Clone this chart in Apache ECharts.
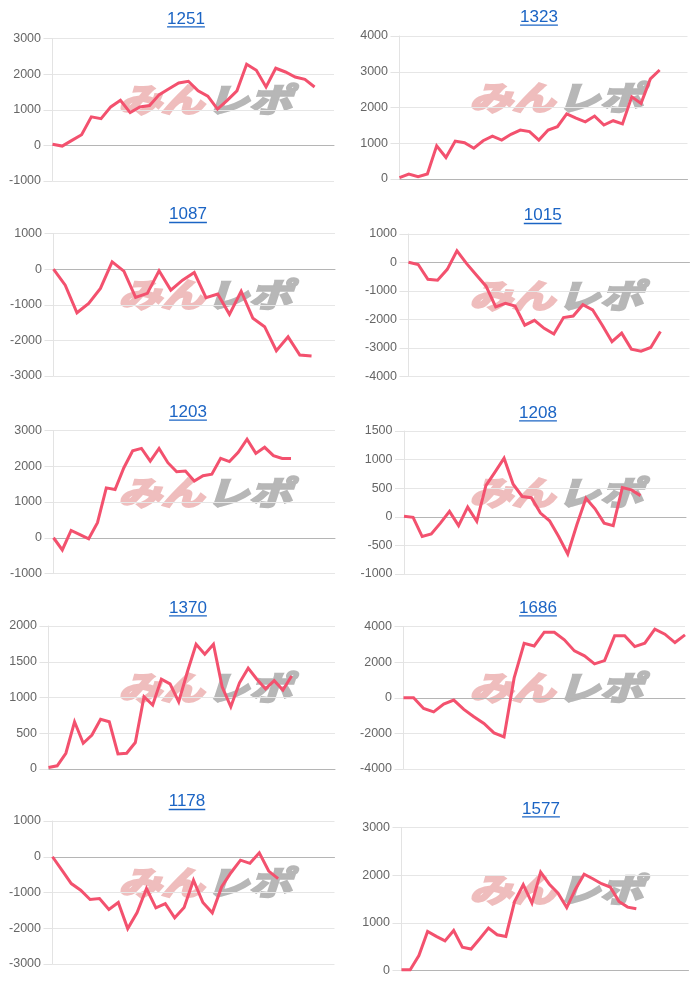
<!DOCTYPE html>
<html><head><meta charset="utf-8">
<script src="https://cdn.jsdelivr.net/npm/echarts@6/dist/echarts.min.js"></script>
<style>html,body{margin:0;padding:0;background:#fff}#c{width:700px;height:986px}</style>
</head><body><div id="c"></div>
<script>
// ---- data ----
const titles = ['1251','1323','1087','1015','1203','1208','1370','1686','1178','1577'];
const categoryCounts = [30, 32, 25, 30, 33, 32, 34, 29, 31, 34];
const s1251 = [30, -20, 140, 300, 800, 750, 1080, 1265, 920, 1080, 1120, 1425, 1590, 1750, 1800, 1530, 1380, 1020, 1265, 1530, 2280, 2110, 1640, 2165, 2060, 1920, 1855, 1640];
const s1323 = [37, 140, 65, 140, 930, 600, 1060, 1015, 860, 1070, 1200, 1090, 1250, 1370, 1325, 1090, 1370, 1465, 1820, 1700, 1600, 1760, 1510, 1630, 1540, 2300, 2115, 2800, 3050];
const s1087 = [0, -450, -1225, -960, -540, 205, -55, -795, -680, -45, -590, -310, -95, -800, -700, -1270, -620, -1380, -1615, -2290, -1900, -2410, -2440];
const s1015 = [10, -70, -590, -620, -240, 410, -40, -440, -830, -1560, -1430, -1530, -2200, -2030, -2310, -2510, -1930, -1880, -1480, -1660, -2200, -2780, -2480, -3040, -3110, -2980, -2420];
const s1203 = [0, -340, 205, 85, -30, 420, 1395, 1350, 1960, 2430, 2500, 2145, 2500, 2100, 1845, 1865, 1585, 1735, 1780, 2220, 2130, 2390, 2755, 2360, 2530, 2295, 2220, 2220];
const s1208 = [10, -10, -345, -300, -110, 95, -155, 170, -80, 545, 780, 1025, 570, 355, 335, 65, -70, -345, -650, -140, 325, 140, -110, -155, 510, 470, 370];
const s1370 = [20, 45, 220, 660, 360, 475, 695, 660, 210, 220, 370, 1010, 895, 1255, 1190, 940, 1360, 1745, 1605, 1745, 1150, 870, 1205, 1410, 1255, 1120, 1235, 1105, 1300];
const s1686 = [0, 0, -600, -790, -355, -130, -655, -1070, -1445, -1970, -2200, 1100, 3060, 2910, 3680, 3680, 3250, 2630, 2350, 1900, 2085, 3475, 3475, 2870, 3060, 3850, 3570, 3100, 3530];
const s1178 = [0, -375, -750, -935, -1195, -1170, -1475, -1280, -2010, -1560, -890, -1430, -1310, -1710, -1420, -655, -1280, -1570, -840, -440, -95, -185, 110, -400, -610];
const s1577 = [15, 15, 315, 820, 715, 620, 840, 490, 450, 665, 890, 750, 715, 1445, 1800, 1415, 2065, 1810, 1620, 1320, 1705, 2020, 1925, 1820, 1750, 1450, 1330, 1295];
const seriesData = [s1251, s1323, s1087, s1015, s1203, s1208, s1370, s1686, s1178, s1577];
const yMin  = [-1000, 0, -3000, -4000, -1000, -1000, 0, -4000, -3000, 0];
const yMax  = [3000, 4000, 1000, 1000, 3000, 1500, 2000, 4000, 1000, 3000];
const yStep = [1000, 1000, 1000, 1000, 1000, 500, 500, 2000, 1000, 1000];

// ---- layout (pixels) ----
const grids = [
  [52.5, 38.5, 281.5, 142.5], [399.5, 36, 288, 143],
  [53.5, 233.5, 281.5, 142.5], [408.5, 234, 281, 142.5],
  [53.5, 430.5, 281.5, 143], [404, 431, 282, 143],
  [48.5, 626, 286.5, 143], [403.5, 626.5, 281.5, 142.5],
  [52.5, 821, 282, 143], [401.5, 827.5, 287, 143]
];
const titlePos = [[186,25],[539,23.3],[188,220.7],[542.7,221.7],[188,418.3],[538,419],[188,614],[538,614],[187,807.7],[541,815]];
const FONT = '"Liberation Sans", Arial, Helvetica, sans-serif';
const TITLE_SIZE = 17;
const BLUE = '#1b64c4';
const LINE = '#f3516e';
const WM_FONT = 'italic bold 33px "Noto Sans CJK JP"';

const measure = document.createElement('canvas').getContext('2d');
measure.font = TITLE_SIZE + 'px ' + FONT;

const option = { animation: false, title: [], grid: [], xAxis: [], yAxis: [], series: [], graphic: [] };

titles.forEach((t, i) => {
  const [gl, gt, gw, gh] = grids[i];
  const [cx, base] = titlePos[i];
  option.title.push({
    text: t, left: cx - 5, top: base - 14.4 - 5, textAlign: 'center',
    textStyle: { fontFamily: FONT, fontSize: TITLE_SIZE, fontWeight: 'normal', color: BLUE }
  });
  const w = measure.measureText(t).width;
  option.graphic.push({ type: 'line', shape: { x1: cx - w / 2, y1: base + 1.8, x2: cx + w / 2, y2: base + 1.8 },
    style: { stroke: BLUE, lineWidth: 1.3 }, z: 10, silent: true });
  option.grid.push({ left: gl, top: gt, width: gw, height: gh, containLabel: false });
  const cats = Array.from({ length: categoryCounts[i] }, (_, k) => String(k + 1));
  option.xAxis.push({
    type: 'category', gridIndex: i, data: cats, boundaryGap: false,
    axisLine: { show: true, onZero: true, lineStyle: { color: '#b5b5b5', width: 1 } },
    axisTick: { show: false }, axisLabel: { show: false }, splitLine: { show: false }
  });
  option.yAxis.push({
    type: 'value', gridIndex: i, min: yMin[i], max: yMax[i], interval: yStep[i],
    axisLine: { show: true, lineStyle: { color: '#e3e3e3' } },
    axisTick: { show: true, length: 9, lineStyle: { color: '#e3e3e3' } },
    axisLabel: { color: '#666', fontSize: 12.5, fontFamily: FONT, margin: 11.5, formatter: v => String(v) },
    splitLine: { show: true, lineStyle: { color: '#e6e6e6' } }
  });
  option.series.push({
    type: 'line', name: t, xAxisIndex: i, yAxisIndex: i, data: seriesData[i],
    symbol: 'none', showSymbol: false, z: 3,
    lineStyle: { color: LINE, width: 3, join: 'miter' }, itemStyle: { color: LINE }
  });
  // watermark "みんレポ"
  const wx = (i % 2 === 0) ? 205 : 556;
  const wy = gt + gh / 2 - 10;
  option.graphic.push({
    type: 'group', x: wx, y: wy, z: 1, silent: true,
    children: [
      { type: 'text', x: -1, y: 0, scaleX: 1.3, style: { text: 'みん', fill: '#efbdbd', stroke: '#efbdbd', lineWidth: 2.5,
        align: 'right', verticalAlign: 'middle', font: WM_FONT } },
      { type: 'text', x: 1, y: 0, scaleX: 1.3, style: { text: 'レポ', fill: '#b7b7b7', stroke: '#b7b7b7', lineWidth: 2.5,
        align: 'left', verticalAlign: 'middle', font: WM_FONT } }
    ]
  });
});

const chart = echarts.init(document.getElementById('c'), null, { renderer: 'canvas' });
chart.setOption(option);
</script>
</body></html>
